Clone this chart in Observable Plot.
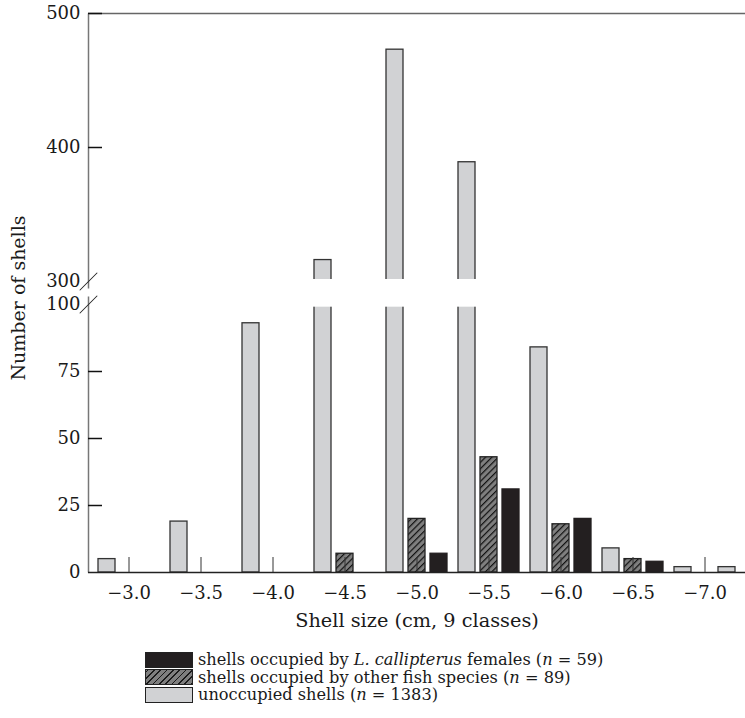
<!DOCTYPE html>
<html><head><meta charset="utf-8">
<script src="https://cdn.jsdelivr.net/npm/d3@7"></script>
<script src="https://cdn.jsdelivr.net/npm/@observablehq/plot@0.6"></script>
<style>
body{margin:0;background:#fff;font-family:"DejaVu Serif",serif;color:#1a1a1a}
#legend{margin-left:145px;margin-top:11px;font-size:16.2px;line-height:17.5px}
.row{display:flex;align-items:center;height:17.5px;white-space:nowrap;line-height:17.5px}
.sw{width:46px;height:14px;border:1px solid #222;margin-right:5px;flex:none}
.sw.black{background:#231f20}
.sw.hatch{background:repeating-linear-gradient(-45deg,#1a1a1a 0 1.2px,#7f7f7f 1.2px 4.5px)}
.sw.gray{background:#d1d2d4}
</style></head><body>
<div id="chart"></div>
<div id="legend">
  <div class="row"><span class="sw black"></span><span>shells occupied by <i>L. callipterus</i> females (<i>n</i> = 59)</span></div>
  <div class="row"><span class="sw hatch"></span><span>shells occupied by other fish species (<i>n</i> = 89)</span></div>
  <div class="row"><span class="sw gray"></span><span>unoccupied shells (<i>n</i> = 1383)</span></div>
</div>
<script>
// Shell size classes (cm)
const sizeClasses = ["−3.0","−3.5","−4.0","−4.5","−5.0","−5.5","−6.0","−6.5","−7.0"];
// Series values (number of shells)
const unoccupied  = [5, 19, 93, 316, 473, 389, 84, 9, 2];
const otherFish   = [0, 0, 0, 7, 20, 43, 18, 5, 0];
const callipterus = [0, 0, 0, 0, 7, 31, 20, 4, 0];
// extra light bar shown in the last class (third slot) of the reference
const unoccupiedExtra = [0, 0, 0, 0, 0, 0, 0, 0, 2];
// Y axis tick values (broken axis)
const yTicks = [0, 25, 50, 75, 100, 300, 400, 500];
const breakValues = [300, 100];

const rows = sizeClasses.map((c, i) => ({cls: c, unocc: unoccupied[i], other: otherFish[i], calli: callipterus[i], extra: unoccupiedExtra[i]}));

const W = 745, ML = 88, TICK = 14;
const yOptions = {type: "linear", domain: [0, 100, 300, 500], range: [572, 304, 281, 13]};
const yScale = Plot.scale({y: yOptions});
const axisLen = (lo, hi) => yScale.apply(lo) - yScale.apply(hi);

const chart = Plot.plot({
  width: W, height: 640,
  marginLeft: ML, marginRight: 0, marginTop: 13, marginBottom: 68,
  style: {fontFamily: "DejaVu Serif", fontSize: "18px", color: "#1a1a1a", background: "white", overflow: "visible"},
  x: {type: "band", domain: sizeClasses, paddingInner: 0.146, paddingOuter: 0.098},
  y: yOptions,
  marks: [
    Plot.barY(rows.filter(d => d.unocc > 0), {x: "cls", y: "unocc", insetLeft: 0, insetRight: 44, fill: "#d1d2d4", stroke: "#333", strokeWidth: 1.3}),
    Plot.barY(rows.filter(d => d.other > 0), {x: "cls", y: "other", insetLeft: 22, insetRight: 22, fill: "url(#hatch)", stroke: "#222", strokeWidth: 1.3}),
    Plot.barY(rows.filter(d => d.calli > 0), {x: "cls", y: "calli", insetLeft: 44, insetRight: 0, fill: "#231f20", stroke: "#231f20", strokeWidth: 1.3}),
    Plot.barY(rows.filter(d => d.extra > 0), {x: "cls", y: "extra", insetLeft: 44, insetRight: 0, fill: "#d1d2d4", stroke: "#333", strokeWidth: 1.3}),
    // break gap in bars
    Plot.rectY([0], {y1: 99, y2: 301.5, fill: "white"}),
    Plot.ruleY([500], {stroke: "#666", strokeWidth: 1.5}),
    // left axis line, in two pieces (broken)
    Plot.vector([0], {y: d => d, frameAnchor: "left", length: axisLen(0, 170), rotate: 0, anchor: "start", r: 0, stroke: "#777", strokeWidth: 1.5, strokeLinecap: "butt"}),
    Plot.vector([240], {y: d => d, frameAnchor: "left", length: axisLen(240, 500), rotate: 0, anchor: "start", r: 0, stroke: "#777", strokeWidth: 1.5, strokeLinecap: "butt"}),
    Plot.vector(breakValues, {y: d => d, frameAnchor: "left", length: 24, rotate: 45, anchor: "middle", r: 0, stroke: "#222", strokeWidth: 1}),
    // inward y ticks (except at the break values)
    Plot.ruleY(yTicks.filter(v => v > 0 && !breakValues.includes(v)), {insetRight: W - ML - TICK, stroke: "#111", strokeWidth: 1.5}),
    Plot.ruleY([0], {stroke: "#222", strokeWidth: 1.5}),
    Plot.axisX({tickSize: -15, tickPadding: 29, label: null, stroke: "#333"}),
    Plot.axisY({ticks: yTicks, tickSize: 0, tickPadding: 8, label: null}),
    Plot.text(["Shell size (cm, 9 classes)"], {frameAnchor: "bottom", dy: 48, lineAnchor: "middle", textAnchor: "middle", fontSize: 19.3}),
    Plot.text(["Number of shells"], {frameAnchor: "left", dx: -70, dy: 5, rotate: -90, textAnchor: "middle", lineAnchor: "middle", fontSize: 19})
  ]
});

const svg = chart.tagName.toLowerCase() === "svg" ? chart : chart.querySelector("svg");
const NS = "http://www.w3.org/2000/svg";
const defs = document.createElementNS(NS, "defs");
const pat = document.createElementNS(NS, "pattern");
pat.setAttribute("id", "hatch");
pat.setAttribute("patternUnits", "userSpaceOnUse");
pat.setAttribute("width", "4.5");
pat.setAttribute("height", "4.5");
pat.setAttribute("patternTransform", "rotate(45)");
const bg = document.createElementNS(NS, "rect");
bg.setAttribute("width", "4.5"); bg.setAttribute("height", "4.5"); bg.setAttribute("fill", "#7f7f7f");
const ln = document.createElementNS(NS, "line");
ln.setAttribute("x1", "0.6"); ln.setAttribute("y1", "0"); ln.setAttribute("x2", "0.6"); ln.setAttribute("y2", "4.5");
ln.setAttribute("stroke", "#111"); ln.setAttribute("stroke-width", "1.2");
pat.appendChild(bg); pat.appendChild(ln); defs.appendChild(pat);
svg.insertBefore(defs, svg.firstChild);
document.getElementById("chart").appendChild(chart);
</script>
</body></html>
